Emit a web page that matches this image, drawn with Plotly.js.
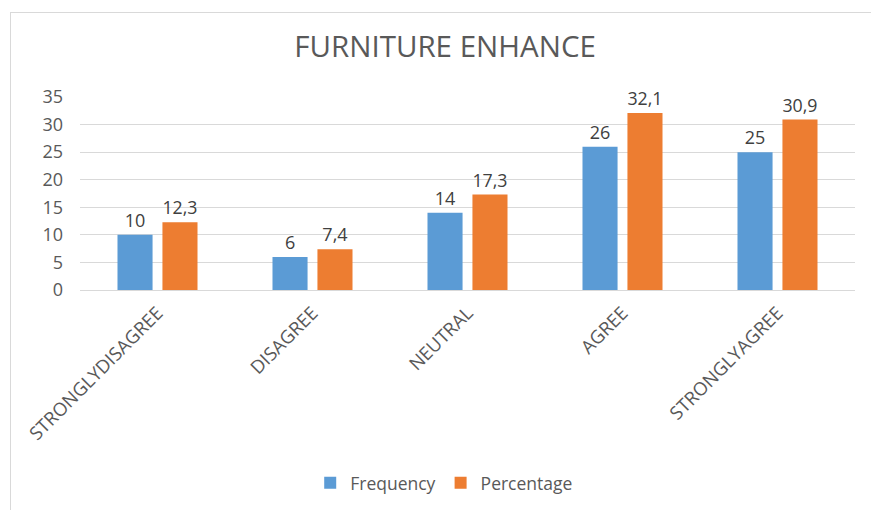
<!DOCTYPE html>
<html>
<head>
<meta charset="utf-8">
<script src="https://cdn.plot.ly/plotly-3.0.1.min.js"></script>
<style>
  html, body { margin: 0; padding: 0; background: #ffffff; }
  #wrap { position: relative; width: 871px; height: 510px; overflow: hidden; }
  #chart { position: absolute; left: 0; top: 0; width: 871px; height: 510px; }
  #frame { position: absolute; left: 10px; top: 12px; width: 900px; height: 540px;
           border: 1.5px solid #d9d9d9; pointer-events: none; box-sizing: border-box; }
</style>
</head>
<body>
<div id="wrap">
  <div id="chart"></div>
  <div id="frame"></div>
</div>
<script>
const categories = ["STRONGLYDISAGREE", "DISAGREE", "NEUTRAL", "AGREE", "STRONGLYAGREE"];
const frequency = [10, 6, 14, 26, 25];
const percentage = [12.3, 7.4, 17.3, 32.1, 30.9];
const seriesNames = ["Frequency", "Percentage"];
const yTicks = [0, 5, 10, 15, 20, 25, 30, 35];

const FONT = '"Open Sans", sans-serif';
const TXT = '#595959';

const fmt = v => String(v).replace('.', ',');

const traces = [
  { type: 'bar', name: seriesNames[0], x: categories, y: frequency,
    marker: { color: '#5B9BD5' },
    text: frequency.map(fmt), textposition: 'outside', cliponaxis: false,
    textfont: { family: FONT, size: 18, color: '#404040' } },
  { type: 'bar', name: seriesNames[1], x: categories, y: percentage,
    marker: { color: '#ED7D31' },
    text: percentage.map(fmt), textposition: 'outside', cliponaxis: false,
    textfont: { family: FONT, size: 18, color: '#404040' } }
];

const layout = {
  width: 871, height: 510,
  margin: { l: 80, r: 16, t: 97, b: 220 },
  paper_bgcolor: 'rgba(0,0,0,0)', plot_bgcolor: 'rgba(0,0,0,0)',
  font: { family: FONT, color: TXT, size: 17 },
  title: { text: 'FURNITURE ENHANCE', font: { family: FONT, size: 29.5, color: TXT },
           x: 0.511, xref: 'container', xanchor: 'center',
           y: 0.908, yref: 'container', yanchor: 'middle' },
  barmode: 'group', bargap: 0.42, bargroupgap: 0.22,
  showlegend: true,
  legend: { orientation: 'h', xref: 'container', x: 0.51, xanchor: 'center',
            yref: 'container', y: 0.053, yanchor: 'middle',
            font: { family: FONT, size: 17.5, color: TXT }, itemwidth: 30 },
  xaxis: { tickangle: -45, showgrid: false, showline: true, linecolor: '#d9d9d9', linewidth: 1,
           ticks: '', ticklabelstandoff: 4, tickfont: { family: FONT, size: 18.5, color: TXT }, fixedrange: true },
  yaxis: { range: [0, 35], tickvals: yTicks, showgrid: true, gridcolor: '#d9d9d9', gridwidth: 1,
           zeroline: false, showline: false, ticks: '', ticklabelstandoff: 16,
           tickfont: { family: FONT, size: 18, color: TXT }, fixedrange: true }
};

Plotly.newPlot('chart', traces, layout, { displayModeBar: false, staticPlot: true });
</script>
</body>
</html>
